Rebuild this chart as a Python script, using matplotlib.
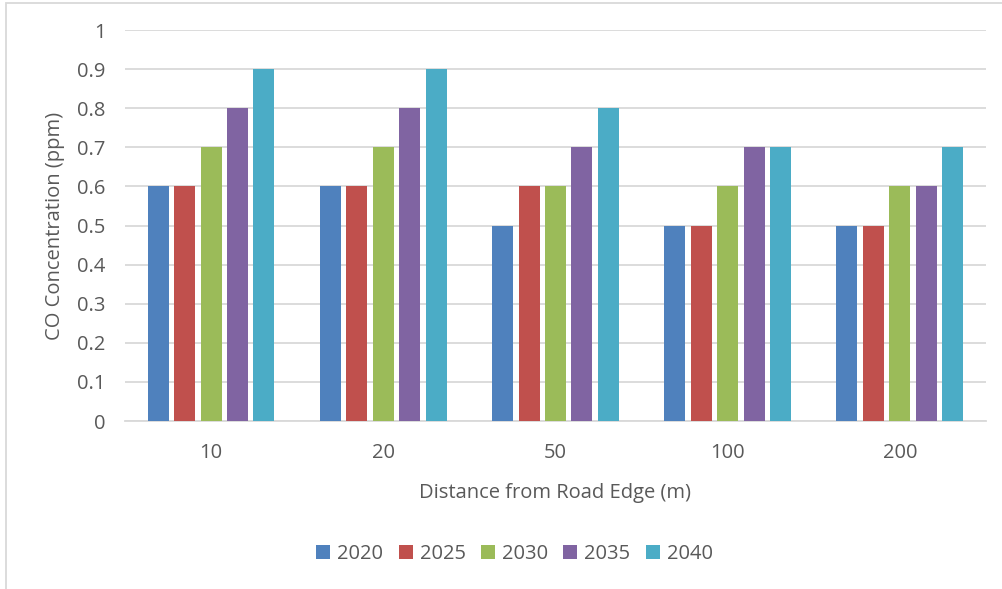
import numpy as np
import matplotlib.pyplot as plt
from matplotlib.patches import Rectangle

plt.rcParams['font.family'] = ['Open Sans', 'DejaVu Sans']

distances = ['10', '20', '50', '100', '200']
years = ['2020', '2025', '2030', '2035', '2040']
co_2020 = [0.6, 0.6, 0.5, 0.5, 0.5]
co_2025 = [0.6, 0.6, 0.6, 0.5, 0.5]
co_2030 = [0.7, 0.7, 0.6, 0.6, 0.6]
co_2035 = [0.8, 0.8, 0.7, 0.7, 0.6]
co_2040 = [0.9, 0.9, 0.8, 0.7, 0.7]
series = [co_2020, co_2025, co_2030, co_2035, co_2040]
colors = ['#4F81BD', '#C0504D', '#9BBB59', '#8064A2', '#4BACC6']
text_color = '#595959'

fig = plt.figure(figsize=(10.03, 5.89), dpi=100)
ax = fig.add_axes([0.1246, 0.2852, 0.8584, 0.6638])

x = np.arange(len(distances))
slot = 0.1535
bar_w = 0.122
for i, (vals, col) in enumerate(zip(series, colors)):
    ax.bar(x + (i - 2) * slot, vals, bar_w, color=col, label=years[i], zorder=3)

ax.set_xlim(-0.5, len(distances) - 0.5)
ax.set_ylim(0, 1)
ax.set_yticks(np.arange(0, 1.01, 0.1))
ax.set_yticklabels(['0', '0.1', '0.2', '0.3', '0.4', '0.5', '0.6', '0.7', '0.8', '0.9', '1'])
ax.set_xticks(x)
ax.set_xticklabels(distances)
ax.grid(axis='y', color='#D9D9D9', linewidth=1.3, zorder=0)
for s in ['top', 'right', 'left']:
    ax.spines[s].set_visible(False)
ax.spines['bottom'].set_color('#D9D9D9')
ax.spines['bottom'].set_linewidth(1.3)
ax.tick_params(length=0, labelsize=14.5, colors=text_color, pad=14)
ax.tick_params(axis='x', pad=16)

ax.set_ylabel('CO Concentration (ppm)', fontsize=14.5, color=text_color, labelpad=9)
ax.set_xlabel('Distance from Road Edge (m)', fontsize=14.5, color=text_color, labelpad=14)

fig.legend(loc='center', bbox_to_anchor=(0.513, 0.059), ncol=5, frameon=False,
           fontsize=14.5, labelcolor=text_color, handlelength=0.7, handleheight=0.7,
           handletextpad=0.35, columnspacing=0.75)

fig.patches.append(Rectangle((6 / 1003, -0.1), 1.2, 1.1 - 3 / 589, transform=fig.transFigure,
                             fill=False, edgecolor='#D9D9D9', linewidth=1.3))

fig.savefig('out.png', dpi=100)
